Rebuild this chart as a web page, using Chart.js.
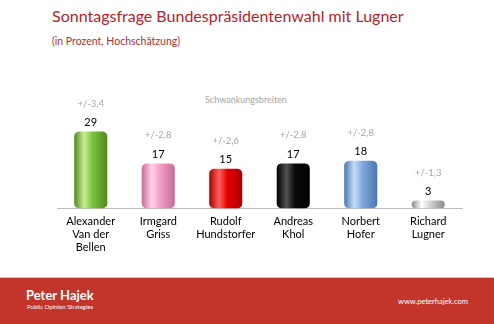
<!DOCTYPE html>
<html>
<head>
<meta charset="utf-8">
<script src="https://cdn.jsdelivr.net/npm/chart.js@4"></script>
<style>
  html, body { margin: 0; padding: 0; background: #fff; }
  body { width: 494px; height: 324px; position: relative; overflow: hidden; font-family: Lato, "Open Sans", sans-serif; }
  #title { position: absolute; left: 52px; top: 6px; font-size: 16px; color: #b02430; white-space: nowrap; }
  #subtitle { position: absolute; left: 52px; top: 35px; font-size: 10.5px; color: #a8303a; }
  #note { position: absolute; left: 205px; top: 94px; font-size: 9px; color: #a6a6a6; }
  #wrap { position: absolute; left: 0; top: 0; width: 494px; height: 277px; }
  #footer { position: absolute; left: 0; top: 277px; width: 494px; height: 47px; background: #c3342a; border-top: 1px solid #f0b8b0; box-sizing: border-box; color: #fff; }
  #brand { position: absolute; left: 26px; top: 9px; font-size: 13px; font-weight: bold; }
  #tag { position: absolute; left: 27px; top: 25px; font-size: 6px; }
  #web { position: absolute; right: 26px; top: 19px; font-size: 7.5px; }
</style>
</head>
<body>
<div id="title">Sonntagsfrage Bundespräsidentenwahl mit Lugner</div>
<div id="subtitle">(in Prozent, Hochschätzung)</div>
<div id="note">Schwankungsbreiten</div>
<div id="wrap"><canvas id="poll"></canvas></div>
<div id="footer">
  <div id="brand">Peter Hajek</div>
  <div id="tag">Public Opinion Strategies</div>
  <div id="web">www.peterhajek.com</div>
</div>
<script>
var candidates = [
  ["Alexander", "Van der", "Bellen"],
  ["Irmgard", "Griss"],
  ["Rudolf", "Hundstorfer"],
  ["Andreas", "Khol"],
  ["Norbert", "Hofer"],
  ["Richard", "Lugner"]
];
var shares = [29, 17, 15, 17, 18, 3];
var margins = ["+/-3,4", "+/-2,8", "+/-2,6", "+/-2,8", "+/-2,8", "+/-1,3"];
// edge, highlight, body colour for each cylinder
var tones = [
  ["#4f8a1e", "#c8ef90", "#7cc242"],
  ["#c86a98", "#ffd0e6", "#f2a0c8"],
  ["#a80000", "#ff6060", "#e60000"],
  ["#000000", "#505050", "#0a0a0a"],
  ["#4a76b0", "#c4dcf6", "#80aadc"],
  ["#8a8a8a", "#ffffff", "#d4d4d4"]
];
var barPct = 0.49;

function cylinder(ctx) {
  var chart = ctx.chart;
  var t = tones[ctx.dataIndex];
  if (!chart.chartArea) return t[2];
  var x = chart.scales.x;
  var cx = x.getPixelForValue(ctx.dataIndex);
  var w = (x.width / candidates.length) * barPct;
  var g = chart.ctx.createLinearGradient(cx - w / 2, 0, cx + w / 2, 0);
  g.addColorStop(0, t[0]);
  g.addColorStop(0.3, t[1]);
  g.addColorStop(0.55, t[2]);
  g.addColorStop(1, t[0]);
  return g;
}

var barLabels = {
  id: "barLabels",
  afterDatasetsDraw: function (chart) {
    var c = chart.ctx;
    var meta = chart.getDatasetMeta(0);
    c.save();
    c.textAlign = "center";
    c.textBaseline = "middle";
    meta.data.forEach(function (bar, i) {
      c.font = "11px Lato, sans-serif";
      c.fillStyle = "#000";
      c.fillText(String(shares[i]), bar.x, bar.y - 9);
      c.font = "9.5px Lato, sans-serif";
      c.fillStyle = "#a6a6a6";
      c.fillText(margins[i], bar.x, bar.y - 28);
    });
    c.restore();
  }
};

new Chart(document.getElementById("poll"), {
  type: "bar",
  data: {
    labels: candidates,
    datasets: [{
      data: shares,
      backgroundColor: cylinder,
      borderRadius: 5,
      borderSkipped: false,
      barPercentage: barPct,
      categoryPercentage: 1
    }]
  },
  options: {
    responsive: true,
    maintainAspectRatio: false,
    animation: false,
    layout: { padding: { left: 57, right: 32, top: 76, bottom: 17 } },
    plugins: { legend: { display: false }, tooltip: { enabled: false } },
    scales: {
      y: { display: false, min: 0, max: 50 },
      x: {
        grid: { display: false, drawTicks: false },
        border: { color: "#bfbfbf" },
        ticks: { color: "#000", padding: 6, font: { family: "Lato", size: 11, lineHeight: 1.2 } }
      }
    }
  },
  plugins: [barLabels]
});
</script>
</body>
</html>
